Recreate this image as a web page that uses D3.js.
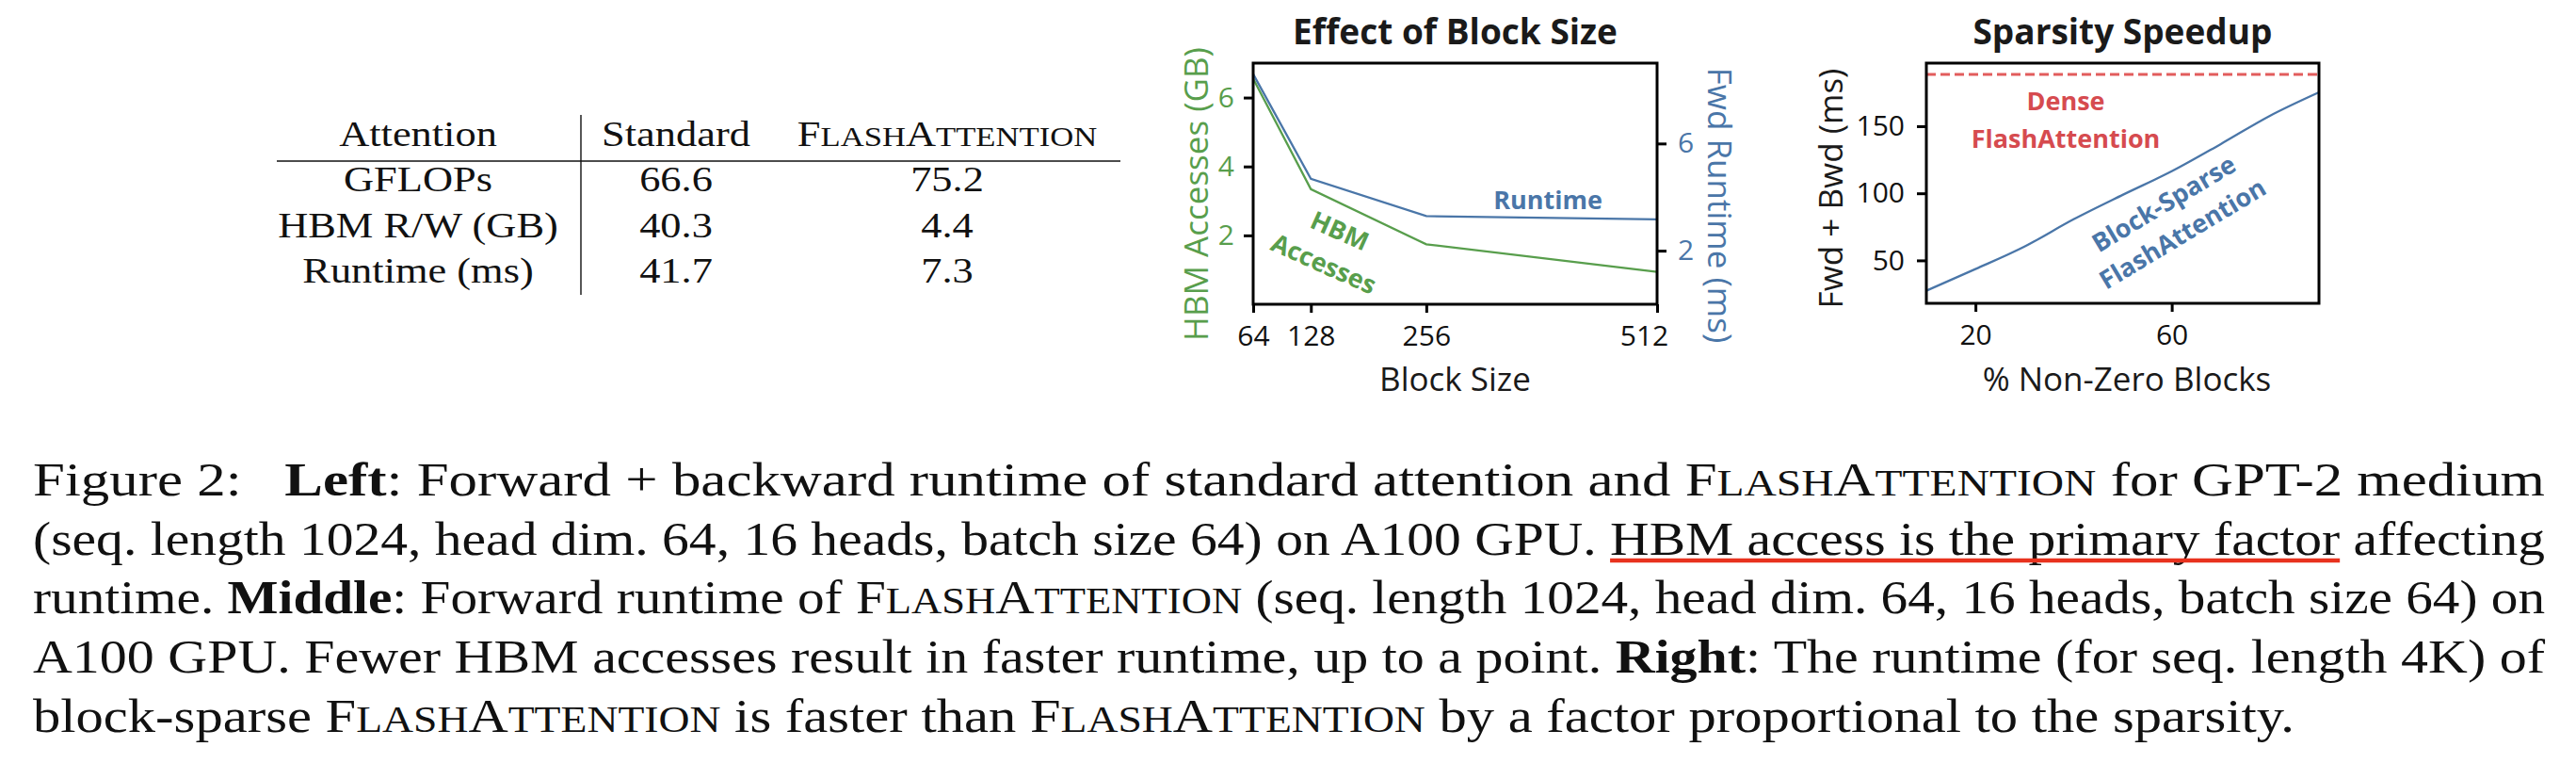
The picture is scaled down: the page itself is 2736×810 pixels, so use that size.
<!DOCTYPE html>
<html><head><meta charset="utf-8">
<script src="https://cdn.jsdelivr.net/npm/d3@7"></script>
<style>
body{margin:0;background:#fff}
svg{display:block}
text{white-space:pre}
</style>
</head><body>
<svg id="fig" width="2736" height="810"></svg>
<script>
// ---------------- data ----------------
const tableColumns = ["Attention", "Standard", "FLASHATTENTION"];
const tableRows = ["GFLOPs", "HBM R/W (GB)", "Runtime (ms)"];
const standardValues = ["66.6", "40.3", "41.7"];
const flashValues = ["75.2", "4.4", "7.3"];

const blockSizes = [64, 128, 256, 512];
const hbmAccesses = [6.55, 3.34, 1.74, 0.94];
const fwdRuntime = [8.59, 4.68, 3.29, 3.17];
const blockTicks = [64, 128, 256, 512];
const hbmTicks = [2, 4, 6];
const runtimeTicks = [2, 6];

const nonZeroPct = [10, 20, 30, 40, 50, 60, 70, 80, 90];
const sparseRuntime = [27.4, 43.5, 60.3, 80.6, 98.8, 116.4, 136.7, 157.7, 175.2];
const denseRuntime = 188.5;
const pctTicks = [20, 60];
const msTicks = [50, 100, 150];

const captionLines = [
  "Figure 2:   **Left**: Forward + backward runtime of standard attention and FLASHATTENTION for GPT-2 medium",
  "(seq. length 1024, head dim. 64, 16 heads, batch size 64) on A100 GPU. HBM access is the primary factor affecting",
  "runtime. **Middle**: Forward runtime of FLASHATTENTION (seq. length 1024, head dim. 64, 16 heads, batch size 64) on",
  "A100 GPU. Fewer HBM accesses result in faster runtime, up to a point. **Right**: The runtime (for seq. length 4K) of",
  "block-sparse FLASHATTENTION is faster than FLASHATTENTION by a factor proportional to the sparsity."
];
const underlinedPhrase = "HBM access is the primary factor";

// ---------------- helpers ----------------
const svg = d3.select("#fig");
const SERIF = "'Liberation Serif', 'Times New Roman', serif";
const SANS = "'Open Sans', 'Noto Sans', sans-serif";
const GREEN = "#589e4c", BLUE = "#4a76a8", RED = "#d64b4f", DASHRED = "#e25c5c";

function addRich(textSel, str, size) {
  const parts = str.split("**");
  parts.forEach((part, i) => {
    const bold = i % 2 === 1;
    const pieces = part.split("FLASHATTENTION");
    pieces.forEach((p, j) => {
      if (p.length) textSel.append("tspan").attr("font-weight", bold ? "bold" : null).text(p);
      if (j < pieces.length - 1) {
        [["F", 1], ["LASH", 0.78], ["A", 1], ["TTENTION", 0.78]].forEach(([t, k]) => {
          textSel.append("tspan").attr("font-size", size * k).text(t);
        });
      }
    });
  });
  return textSel;
}
function stretch(textSel, factor, target) {
  const n = textSel.node();
  const w = n.getComputedTextLength();
  textSel.attr("textLength", target != null ? target : w * factor).attr("lengthAdjust", "spacingAndGlyphs");
}

// ---------------- table ----------------
const colX = [444, 718, 1006];
const TSIZE = 37;
const table = svg.append("g").attr("font-family", SERIF).attr("font-size", TSIZE).attr("fill", "#111");
tableColumns.forEach((c, i) => {
  const t = table.append("text").attr("x", colX[i]).attr("y", 155).attr("text-anchor", "middle");
  addRich(t, c, TSIZE); stretch(t, 1.2);
});
const rowY = [203, 252, 300];
tableRows.forEach((r, i) => {
  [r, standardValues[i], flashValues[i]].forEach((v, j) => {
    const t = table.append("text").attr("x", colX[j]).attr("y", rowY[i]).attr("text-anchor", "middle").text(v);
    stretch(t, 1.2);
  });
});
table.append("line").attr("x1", 294).attr("x2", 1190).attr("y1", 171).attr("y2", 171).attr("stroke", "#111").attr("stroke-width", 1.6);
table.append("line").attr("x1", 617).attr("x2", 617).attr("y1", 122).attr("y2", 313).attr("stroke", "#111").attr("stroke-width", 1.4);

// ---------------- middle chart ----------------
const m = {l: 1331, r: 1760, t: 67, b: 323};
const xB = d3.scaleLinear().domain([64, 512]).range([m.l, m.r]);
const yH = d3.scaleLinear().domain([0, 7]).range([m.b, m.t]);
const yR = d3.scaleLinear().domain([0, 9]).range([m.b, m.t]);
const mid = svg.append("g").attr("font-family", SANS);

function styleAxis(g, color) {
  g.select(".domain").remove();
  g.selectAll(".tick line").attr("stroke", "#000").attr("stroke-width", 3);
  g.selectAll(".tick text").attr("fill", color).attr("font-size", 30).attr("font-family", SANS);
}
mid.append("g").attr("transform", `translate(0,${m.b})`)
  .call(d3.axisBottom(xB).tickValues(blockTicks).tickSize(9).tickPadding(14).tickFormat(d3.format("d")))
  .call(g => styleAxis(g, "#111"))
  .call(g => g.selectAll(".tick text").filter(d => d === 512).attr("dx", -14));
mid.append("g").attr("transform", `translate(${m.l},0)`)
  .call(d3.axisLeft(yH).tickValues(hbmTicks).tickSize(10).tickPadding(10).tickFormat(d3.format("d")))
  .call(g => styleAxis(g, GREEN));
mid.append("g").attr("transform", `translate(${m.r},0)`)
  .call(d3.axisRight(yR).tickValues(runtimeTicks).tickSize(10).tickPadding(12).tickFormat(d3.format("d")))
  .call(g => styleAxis(g, BLUE));

const lineH = d3.line().x((d, i) => xB(blockSizes[i])).y(d => yH(d));
const lineR = d3.line().x((d, i) => xB(blockSizes[i])).y(d => yR(d));
mid.append("path").attr("d", lineH(hbmAccesses)).attr("fill", "none").attr("stroke", GREEN).attr("stroke-width", 2.3);
mid.append("path").attr("d", lineR(fwdRuntime)).attr("fill", "none").attr("stroke", BLUE).attr("stroke-width", 2.3);
mid.append("rect").attr("x", m.l).attr("y", m.t).attr("width", m.r - m.l).attr("height", m.b - m.t)
  .attr("fill", "none").attr("stroke", "#000").attr("stroke-width", 3);

mid.append("text").attr("x", (m.l + m.r) / 2).attr("y", 47).attr("text-anchor", "middle")
  .attr("font-size", 37).attr("font-weight", "bold").attr("fill", "#1a1a1a").text("Effect of Block Size");
mid.append("text").attr("x", (m.l + m.r) / 2).attr("y", 415).attr("text-anchor", "middle")
  .attr("font-size", 35).attr("fill", "#1a1a1a").text("Block Size");
mid.append("text").attr("transform", "translate(1283,206) rotate(-90)").attr("text-anchor", "middle")
  .attr("font-size", 35).attr("fill", GREEN).text("HBM Accesses (GB)");
mid.append("text").attr("transform", "translate(1814,218) rotate(90)").attr("text-anchor", "middle")
  .attr("font-size", 35).attr("fill", BLUE).text("Fwd Runtime (ms)");
mid.append("text").attr("x", 1644).attr("y", 222).attr("text-anchor", "middle")
  .attr("font-size", 27).attr("font-weight", "bold").attr("fill", BLUE).text("Runtime");
[["HBM", 1423, 245], ["Accesses", 1406, 280]].forEach(([t, x, y]) => {
  mid.append("text").attr("transform", `translate(${x},${y}) rotate(24)`).attr("text-anchor", "middle").attr("dy", "0.36em")
    .attr("font-size", 27).attr("font-weight", "bold").attr("fill", GREEN).text(t);
});

// ---------------- right chart ----------------
const s = {l: 2046, r: 2463, t: 67, b: 322};
const xP = d3.scaleLinear().domain([10, 90]).range([s.l, s.r]);
const yM = d3.scaleLinear().domain([18, 197]).range([s.b, s.t]);
const rt = svg.append("g").attr("font-family", SANS);
rt.append("g").attr("transform", `translate(0,${s.b})`)
  .call(d3.axisBottom(xP).tickValues(pctTicks).tickSize(9).tickPadding(14).tickFormat(d3.format("d")))
  .call(g => styleAxis(g, "#111"));
rt.append("g").attr("transform", `translate(${s.l},0)`)
  .call(d3.axisLeft(yM).tickValues(msTicks).tickSize(10).tickPadding(13).tickFormat(d3.format("d")))
  .call(g => styleAxis(g, "#111"));
rt.append("line").attr("x1", s.l).attr("x2", s.r).attr("y1", yM(denseRuntime)).attr("y2", yM(denseRuntime))
  .attr("stroke", DASHRED).attr("stroke-width", 3).attr("stroke-dasharray", "10,5");
const lineS = d3.line().x((d, i) => xP(nonZeroPct[i])).y(d => yM(d)).curve(d3.curveMonotoneX);
rt.append("path").attr("d", lineS(sparseRuntime)).attr("fill", "none").attr("stroke", BLUE).attr("stroke-width", 2.3);
rt.append("rect").attr("x", s.l).attr("y", s.t).attr("width", s.r - s.l).attr("height", s.b - s.t)
  .attr("fill", "none").attr("stroke", "#000").attr("stroke-width", 3);
rt.append("text").attr("x", (s.l + s.r) / 2).attr("y", 47).attr("text-anchor", "middle")
  .attr("font-size", 37).attr("font-weight", "bold").attr("fill", "#1a1a1a").text("Sparsity Speedup");
rt.append("text").attr("x", 2259).attr("y", 415).attr("text-anchor", "middle")
  .attr("font-size", 35).attr("fill", "#1a1a1a").text("% Non-Zero Blocks");
rt.append("text").attr("transform", "translate(1957,200) rotate(-90)").attr("text-anchor", "middle")
  .attr("font-size", 35).attr("fill", "#1a1a1a").text("Fwd + Bwd (ms)");
[["Dense", 117], ["FlashAttention", 157]].forEach(([t, y]) => {
  rt.append("text").attr("x", 2194).attr("y", y).attr("text-anchor", "middle")
    .attr("font-size", 27).attr("font-weight", "bold").attr("fill", RED).text(t);
});
[["Block-Sparse", 2298, 216], ["FlashAttention", 2318, 248]].forEach(([t, x, y]) => {
  rt.append("text").attr("transform", `translate(${x},${y}) rotate(-31)`).attr("text-anchor", "middle").attr("dy", "0.36em")
    .attr("font-size", 27).attr("font-weight", "bold").attr("fill", BLUE).text(t);
});

// ---------------- caption ----------------
const CSIZE = 50;
const capY = [526, 589, 651, 714, 777];
const cap = svg.append("g").attr("font-family", SERIF).attr("font-size", CSIZE).attr("fill", "#111");
captionLines.forEach((line, i) => {
  const t = cap.append("text").attr("x", 35).attr("y", capY[i]);
  addRich(t, line, CSIZE);
  stretch(t, 1, i < 4 ? 2668 : 2402);
  const plain = line.replace(/\*\*/g, "");
  const k = plain.indexOf(underlinedPhrase);
  if (k >= 0) {
    const n = t.node();
    const x1 = n.getStartPositionOfChar(k).x;
    const x2 = n.getEndPositionOfChar(k + underlinedPhrase.length - 1).x;
    cap.append("line").attr("x1", x1).attr("x2", x2).attr("y1", capY[i] + 6).attr("y2", capY[i] + 6)
      .attr("stroke", "#e8321e").attr("stroke-width", 4.5);
  }
});
</script>
</body></html>
